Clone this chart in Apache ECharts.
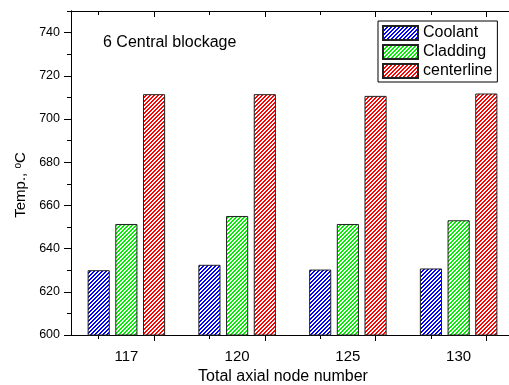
<!DOCTYPE html>
<html>
<head>
<meta charset="utf-8">
<script src="https://cdn.jsdelivr.net/npm/echarts@6/dist/echarts.min.js"></script>
<style>
  html, body { margin: 0; padding: 0; background: #fff; }
  #chart { width: 509px; height: 385px; }
</style>
</head>
<body>
<div id="chart"></div>
<script>
  // data
  const categories = ['117', '120', '125', '130'];
  const coolant = [630.0, 632.5, 630.3, 630.8];
  const cladding = [651.4, 655.1, 651.4, 653.1];
  const centerline = [711.5, 711.5, 710.7, 711.8];
  const yLabels = [600, 620, 640, 660, 680, 700, 720, 740];
  const yMinor = [610, 630, 650, 670, 690, 710, 730, 750];
  // x ticks sit under the first and last bar of each group (half-category units)
  const xMajor = [1.5, 3.5, 5.5, 7.5];
  const xMinor = [0.5, 2.5, 4.5, 6.5];

  const font = 'Liberation Sans, Arial, sans-serif';

  // diagonal hatch fill like the Origin plot
  function hatch(color) {
    const c = document.createElement('canvas');
    c.width = 4;
    c.height = 4;
    const ctx = c.getContext('2d');
    ctx.fillStyle = '#fff';
    ctx.fillRect(0, 0, 4, 4);
    ctx.fillStyle = color;
    for (let x = 0; x < 4; x++) {
      for (let y = 0; y < 4; y++) {
        if ((x + y) % 4 < 2) ctx.fillRect(x, y, 1, 1);
      }
    }
    return { image: c, repeat: 'repeat' };
  }

  const tickAxis = (pos, values, len, inside, line) => ({
    type: 'value',
    position: pos,
    min: 0,
    max: 8,
    axisLine: { show: line, lineStyle: { color: '#000', width: 1 } },
    axisLabel: { show: false },
    splitLine: { show: false },
    axisTick: { show: true, inside: inside, length: len, customValues: values, lineStyle: { color: '#000', width: 1 } }
  });

  const yTickAxis = (pos, values, len, inside, line, labels) => ({
    type: 'value',
    position: pos,
    min: 600,
    max: 750,
    axisLine: { show: line, lineStyle: { color: '#000', width: 1 } },
    splitLine: { show: false },
    axisTick: { show: true, inside: inside, length: len, customValues: values, lineStyle: { color: '#000', width: 1 } },
    axisLabel: labels
      ? { show: true, customValues: yLabels, margin: 11, color: '#000', fontSize: 12.5, fontFamily: font }
      : { show: false }
  });

  const chart = echarts.init(document.getElementById('chart'));

  const barStyle = (color) => ({
    color: hatch(color),
    borderColor: '#222',
    borderWidth: 1
  });

  chart.setOption({
    animation: false,
    backgroundColor: '#fff',
    title: {
      text: '6 Central blockage',
      left: 103,
      top: 35,
      padding: 0,
      textStyle: { fontSize: 16, fontWeight: 'normal', color: '#000', fontFamily: font }
    },
    legend: {
      orient: 'vertical',
      left: 378,
      top: 21,
      padding: [4, 5, 3, 4],
      icon: 'rect',
      itemWidth: 35,
      itemHeight: 14,
      itemGap: 3,
      borderColor: '#000',
      borderWidth: 1,
      backgroundColor: '#fff',
      textStyle: { fontSize: 16, color: '#000', fontFamily: font },
      data: ['Coolant', 'Cladding', 'centerline']
    },
    grid: {
      left: 71,
      right: -5,
      top: 11,
      bottom: 50,
      outerBoundsMode: 'none'
    },
    xAxis: [
      {
        type: 'category',
        data: categories,
        position: 'bottom',
        axisLine: { show: true, lineStyle: { color: '#000', width: 1 } },
        axisTick: { show: false },
        axisLabel: { margin: 14, color: '#000', fontSize: 15, fontFamily: font },
        name: 'Total axial node number',
        nameLocation: 'middle',
        nameGap: 32,
        nameTextStyle: { fontSize: 16, color: '#000', fontFamily: font, padding: [0, 19, 0, 0] }
      },
      tickAxis('bottom', xMajor, 6, false, false),
      tickAxis('bottom', xMinor, 4, false, false),
      tickAxis('top', xMajor, 6, true, true),
      tickAxis('top', xMinor, 4, true, false)
    ],
    yAxis: [
      Object.assign(yTickAxis('left', yLabels, 7, false, true, true), {
        name: 'Temp., {sup|o}C',
        nameLocation: 'middle',
        nameGap: 42,
        nameTextStyle: {
          fontSize: 15,
          color: '#000',
          fontFamily: font,
          padding: [0, 24, 0, 0],
          rich: {
            sup: { fontSize: 10, color: '#000', fontFamily: font, verticalAlign: 'top' }
          }
        }
      }),
      yTickAxis('left', yMinor, 4, false, false, false),
      yTickAxis('right', yLabels, 7, true, true, false),
      yTickAxis('right', yMinor, 4, true, false, false)
    ],
    series: [
      {
        name: 'Coolant',
        type: 'bar',
        data: coolant,
        barGap: '25%',
        barCategoryGap: '30%',
        itemStyle: barStyle('#0000ff')
      },
      {
        name: 'Cladding',
        type: 'bar',
        data: cladding,
        itemStyle: barStyle('#00ee00')
      },
      {
        name: 'centerline',
        type: 'bar',
        data: centerline,
        itemStyle: barStyle('#ff0000')
      }
    ]
  });
</script>
</body>
</html>
